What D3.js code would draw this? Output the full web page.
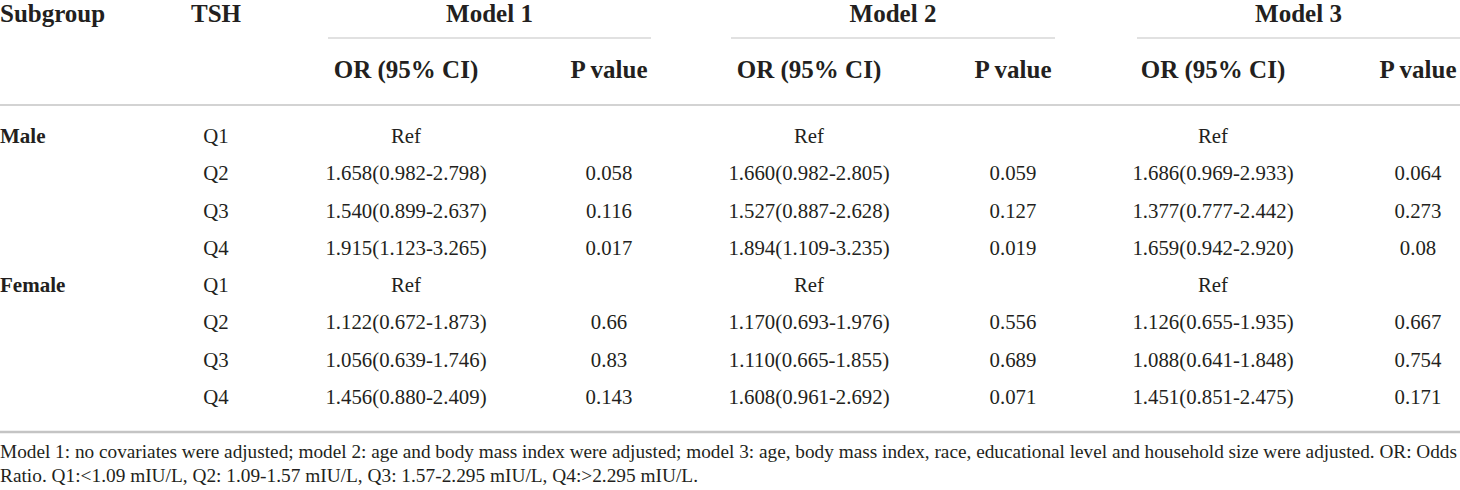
<!DOCTYPE html>
<html>
<head>
<meta charset="utf-8">
<script src="https://cdn.jsdelivr.net/npm/d3@7"></script>
<style>
  html, body { margin: 0; padding: 0; background: #fff; }
  svg { display: block; }
</style>
</head>
<body>
<svg id="chart" width="1460" height="490"></svg>
<script>
// ---- data ----
const subgroups = ["Male", "Female"];
const quartiles = ["Q1", "Q2", "Q3", "Q4"];
const models = ["Model 1", "Model 2", "Model 3"];
const subHeaders = ["OR (95% CI)", "P value"];
const model1OR = ["Ref", "1.658(0.982-2.798)", "1.540(0.899-2.637)", "1.915(1.123-3.265)",
                  "Ref", "1.122(0.672-1.873)", "1.056(0.639-1.746)", "1.456(0.880-2.409)"];
const model1P  = ["", "0.058", "0.116", "0.017", "", "0.66", "0.83", "0.143"];
const model2OR = ["Ref", "1.660(0.982-2.805)", "1.527(0.887-2.628)", "1.894(1.109-3.235)",
                  "Ref", "1.170(0.693-1.976)", "1.110(0.665-1.855)", "1.608(0.961-2.692)"];
const model2P  = ["", "0.059", "0.127", "0.019", "", "0.556", "0.689", "0.071"];
const model3OR = ["Ref", "1.686(0.969-2.933)", "1.377(0.777-2.442)", "1.659(0.942-2.920)",
                  "Ref", "1.126(0.655-1.935)", "1.088(0.641-1.848)", "1.451(0.851-2.475)"];
const model3P  = ["", "0.064", "0.273", "0.08", "", "0.667", "0.754", "0.171"];
const footnotes = [
  "Model 1: no covariates were adjusted; model 2: age and body mass index were adjusted; model 3: age, body mass index, race, educational level and household size were adjusted. OR: Odds",
  "Ratio. Q1:<1.09 mIU/L, Q2: 1.09-1.57 mIU/L, Q3: 1.57-2.295 mIU/L, Q4:>2.295 mIU/L."
];

// ---- layout ----
const svg = d3.select("#chart");
const FONT = "'Liberation Serif', 'Times New Roman', serif";
const TEXT = "#231f20";
const RULE = "#c4c4c4";

const rowCount = subgroups.length * quartiles.length;
const y = d3.scaleLinear().domain([0, rowCount - 1]).range([143, 404]);

// column centres for each model: [OR centre, P centre], model rule spans
const modelScale = d3.scaleOrdinal().domain(models).range([
  { or: 406, p: 609, x0: 328, x1: 651 },
  { or: 809, p: 1013, x0: 731, x1: 1055 },
  { or: 1213, p: 1418, x0: 1137, x1: 1460 }
]);
const tshX = 216;
const subX = 0;

const orCols = [model1OR, model2OR, model3OR];
const pCols = [model1P, model2P, model3P];

// ---- header ----
const hdr = svg.append("g").attr("font-family", FONT).attr("font-weight", "bold")
  .attr("fill", TEXT).attr("font-size", 25);

hdr.append("text").attr("x", subX).attr("y", 22).text("Subgroup");
hdr.append("text").attr("x", tshX).attr("y", 22).attr("text-anchor", "middle").text("TSH");

models.forEach((m, i) => {
  const c = modelScale(m);
  hdr.append("text").attr("x", (c.x0 + c.x1) / 2).attr("y", 22)
    .attr("text-anchor", "middle").text(m);
  svg.append("line").attr("x1", c.x0).attr("x2", c.x1).attr("y1", 38).attr("y2", 38)
    .attr("stroke", RULE).attr("stroke-width", 1.2);
  hdr.append("text").attr("x", c.or).attr("y", 78).attr("text-anchor", "middle").text(subHeaders[0]);
  hdr.append("text").attr("x", c.p).attr("y", 78).attr("text-anchor", "middle").text(subHeaders[1]);
});

svg.append("line").attr("x1", 0).attr("x2", 1460).attr("y1", 105).attr("y2", 105)
  .attr("stroke", RULE).attr("stroke-width", 1.6);

// ---- body ----
const body = svg.append("g").attr("font-family", FONT).attr("fill", TEXT).attr("font-size", 20.8);

subgroups.forEach((s, si) => {
  body.append("text").attr("x", subX).attr("y", y(si * quartiles.length))
    .attr("font-weight", "bold").attr("font-size", 21).text(s);
  quartiles.forEach((q, qi) => {
    body.append("text").attr("x", tshX).attr("y", y(si * quartiles.length + qi))
      .attr("text-anchor", "middle").text(q);
  });
});

models.forEach((m, mi) => {
  const c = modelScale(m);
  body.selectAll(null).data(orCols[mi]).join("text")
    .attr("x", c.or).attr("y", (d, i) => y(i)).attr("text-anchor", "middle").text(d => d);
  body.selectAll(null).data(pCols[mi]).join("text")
    .attr("x", c.p).attr("y", (d, i) => y(i)).attr("text-anchor", "middle").text(d => d);
});

svg.append("line").attr("x1", 0).attr("x2", 1460).attr("y1", 432).attr("y2", 432)
  .attr("stroke", RULE).attr("stroke-width", 2.6);

// ---- footnote ----
const fn = svg.append("g").attr("font-family", FONT).attr("fill", TEXT).attr("font-size", 18.5);
fn.append("text").attr("x", 0).attr("y", 458).attr("textLength", 1457)
  .attr("lengthAdjust", "spacingAndGlyphs").text(footnotes[0]);
fn.append("text").attr("x", 0).attr("y", 482).attr("textLength", 698)
  .attr("lengthAdjust", "spacingAndGlyphs").text(footnotes[1]);
</script>
</body>
</html>
